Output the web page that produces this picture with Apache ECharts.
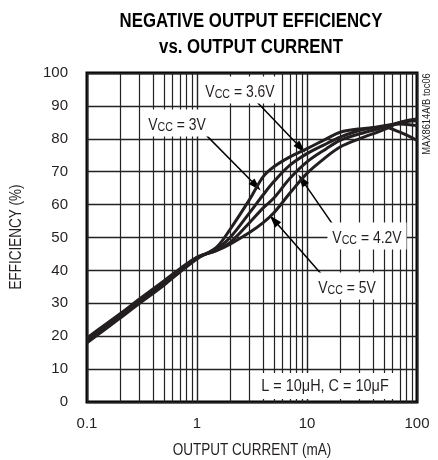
<!DOCTYPE html>
<html>
<head>
<meta charset="utf-8">
<script src="https://cdn.jsdelivr.net/npm/echarts@6/dist/echarts.min.js"></script>
<style>
html,body{margin:0;padding:0;background:#fff;}
#chart{width:438px;height:460px;}
</style>
</head>
<body>
<div id="chart"></div>
<script>
// Output current (mA)
var currents = [0.1, 0.2, 0.3, 0.5, 0.7, 1, 1.5, 2, 3, 4, 5, 7, 10, 15, 20, 30, 50, 70, 100];
// Efficiency (%) per VCC
var eff3V  = [18, 25.5, 30, 35.5, 39.5, 43.5, 47, 52.5, 61.5, 68.5, 71.5, 74.5, 77, 80, 82, 83, 83.5, 82, 79.5];
var eff36V = [18.5, 26, 30.5, 36, 39.8, 43.8, 46.5, 50, 57.5, 63, 67, 72, 75.5, 78.5, 80.5, 82.5, 84, 84.5, 84];
var eff42V = [19, 26.3, 31, 36.3, 40, 44, 46, 48.5, 54.5, 59, 62, 68, 73, 77, 79.5, 81.5, 83.5, 85, 85.5];
var eff5V  = [19.5, 26.8, 31.3, 36.8, 40.5, 44, 46, 48, 51.5, 54.5, 57.5, 63.5, 69.5, 74.5, 77.5, 80, 82.8, 85, 86];

var xTickLabels = {0.1: '0.1', 1: '1', 10: '10', 100: '100'};
var yTicks = [0, 10, 20, 30, 40, 50, 60, 70, 80, 90, 100];
var minorX = [0.2, 0.3, 0.4, 0.5, 0.6, 0.7, 0.8, 0.9,
              2, 3, 4, 5, 6, 7, 8, 9,
              20, 30, 40, 50, 60, 70, 80, 90];

// annotation arrows (start -> tip), in data coordinates
var arrows = [
  [[1.18, 81.5], [3.45, 65.7]],
  [[3.37, 91.8], [8.8, 77.2]],
  [[19.1, 51.7], [9.0, 67.5]],
  [[13.8, 38.5], [5.0, 55.3]]
];

function pairs(ys) { return currents.map(function (x, i) { return [x, ys[i]]; }); }

var FONT = '"Liberation Sans", Arial, sans-serif';
var INK = '#231f20';

var chart = echarts.init(document.getElementById('chart'), null, {renderer: 'canvas'});

function curve(name, ys) {
  return {
    name: name, type: 'line', data: pairs(ys), smooth: 0.35, symbol: 'none', z: 5,
    lineStyle: {color: INK, width: 3}
  };
}

function vccText(v) {
  return '{v|V}{s|CC}{v| = ' + v + '}';
}
var rich = {
  v: {fontFamily: FONT, fontSize: 17, color: INK, lineHeight: 20, verticalAlign: 'bottom'},
  s: {fontFamily: FONT, fontSize: 13, color: INK, lineHeight: 16, verticalAlign: 'bottom'}
};
function label(x, y, text) {
  return {
    type: 'text', x: x, y: y, z: 100, scaleX: 0.82,
    style: {
      text: text, rich: rich, align: 'center', verticalAlign: 'middle',
      backgroundColor: '#fff', padding: [4, 6, 3, 6], fontFamily: FONT, fontSize: 17, fill: INK
    }
  };
}
function plain(x, y, text, size, opts) {
  var o = {
    type: 'text', x: x, y: y, z: 100, scaleX: 0.82,
    style: {text: text, align: 'center', verticalAlign: 'middle', fontFamily: FONT, fontSize: size, fill: INK}
  };
  for (var k in (opts || {})) { if (k === 'style') { for (var s in opts.style) o.style[s] = opts.style[s]; } else o[k] = opts[k]; }
  return o;
}

var option = {
  animation: false,
  backgroundColor: '#fff',
  grid: {left: 87, right: 21, top: 73, bottom: 58, show: true, borderColor: '#000', borderWidth: 3, backgroundColor: 'transparent'},
  xAxis: {
    type: 'log', logBase: 10, min: 0.1, max: 100,
    axisLine: {show: false}, axisTick: {show: false},
    axisLabel: {
      margin: 14, fontFamily: FONT, fontSize: 15, color: INK,
      formatter: function (v) { var k = Math.round(v * 1000) / 1000; return xTickLabels[k] || ''; }
    },
    splitLine: {show: true, lineStyle: {color: '#222', width: 1.4}}
  },
  yAxis: {
    type: 'value', min: yTicks[0], max: yTicks[yTicks.length - 1], interval: 10,
    axisLine: {show: false}, axisTick: {show: false},
    axisLabel: {margin: 19, fontFamily: FONT, fontSize: 15, color: INK},
    splitLine: {show: true, lineStyle: {color: '#222', width: 1.4}}
  },
  series: [
    {
      name: 'minorGrid', type: 'line', data: [], z: 1, silent: true,
      markLine: {
        silent: true, symbol: 'none', label: {show: false}, animation: false,
        lineStyle: {color: '#222', width: 1.2, type: 'solid'},
        data: minorX.map(function (v) { return {xAxis: v}; })
      }
    },
    curve('VCC = 3V', eff3V),
    curve('VCC = 3.6V', eff36V),
    curve('VCC = 4.2V', eff42V),
    curve('VCC = 5V', eff5V),
    {
      name: 'arrows', type: 'line', data: [], z: 50, silent: true,
      markLine: {
        silent: true, symbol: ['none', 'triangle'], symbolSize: [8, 13], label: {show: false}, animation: false,
        lineStyle: {color: '#000', width: 1.5, type: 'solid'},
        data: arrows.map(function (a) { return [{coord: a[0]}, {coord: a[1]}]; })
      }
    }
  ],
  graphic: [
    plain(251, 21, 'NEGATIVE OUTPUT EFFICIENCY', 20, {scaleX: 0.84, style: {fontWeight: 'bold', fill: '#000'}}),
    plain(251, 47, 'vs. OUTPUT CURRENT', 20, {scaleX: 0.84, style: {fontWeight: 'bold', fill: '#000'}}),
    plain(252, 450, 'OUTPUT CURRENT (mA)', 16.5),
    plain(16, 237, 'EFFICIENCY (%)', 16.5, {rotation: Math.PI / 2}),
    label(240, 90, vccText('3.6V')),
    label(177, 123, vccText('3V')),
    label(367, 236, vccText('4.2V')),
    label(347, 286, vccText('5V')),
    plain(325, 386, 'L = 10\u03bcH, C = 10\u03bcF', 17, {scaleX: 0.85, style: {backgroundColor: '#fff', padding: [5, 7, 4, 7]}}),
    plain(427, 114, 'MAX8614A/B toc06', 11, {rotation: Math.PI / 2, scaleX: 0.85})
  ]
};
chart.setOption(option);
</script>
</body>
</html>
